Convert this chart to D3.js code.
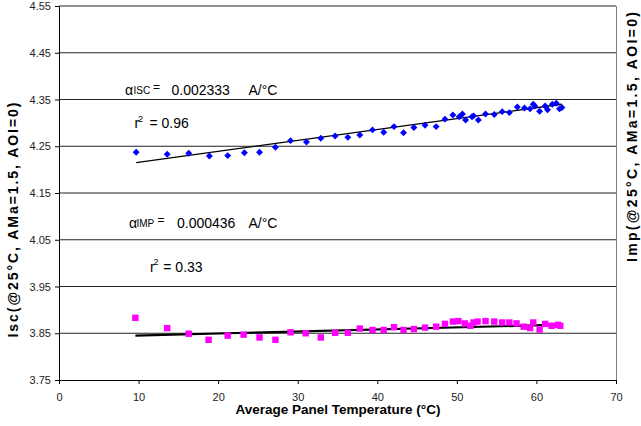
<!DOCTYPE html>
<html><head><meta charset="utf-8">
<script src="https://cdn.jsdelivr.net/npm/d3@7"></script>
<style>body{margin:0;background:#fff}svg{display:block;font-family:"Liberation Sans",Arial,sans-serif}</style>
</head><body><svg id="c" width="641" height="426"></svg>
<script>
// ---- data ----
const xTicks = [0, 10, 20, 30, 40, 50, 60, 70];
const yTicks = [3.75, 3.85, 3.95, 4.05, 4.15, 4.25, 4.35, 4.45, 4.55];
const yTickLabels = ["3.75", "3.85", "3.95", "4.05", "4.15", "4.25", "4.35", "4.45", "4.55"];

const iscTemp = [9.7,13.6,16.3,18.9,21.2,23.3,25.2,27.2,29.1,31.1,32.9,34.7,36.3,37.8,39.4,40.8,42.1,43.3,44.6,46.0,47.4,48.5,49.5,50.3,50.7,51.1,51.9,52.1,52.7,53.6,54.7,55.7,56.6,57.6,58.5,59.2,59.6,59.8,60.4,61.1,61.4,62.0,62.5,62.9,63.2];
const iscVal  = [4.237,4.233,4.235,4.229,4.230,4.236,4.237,4.248,4.262,4.259,4.267,4.272,4.269,4.274,4.285,4.280,4.292,4.279,4.290,4.295,4.292,4.308,4.317,4.313,4.319,4.306,4.313,4.315,4.306,4.319,4.318,4.324,4.322,4.334,4.332,4.330,4.340,4.336,4.325,4.336,4.328,4.340,4.342,4.330,4.333];

const impTemp = [9.6,13.6,16.3,18.8,21.2,23.2,25.2,27.2,29.1,31.0,32.9,34.7,36.3,37.8,39.4,40.8,42.1,43.3,44.6,46.0,47.4,48.5,49.5,50.2,51.0,51.7,52.1,52.6,53.6,54.7,55.7,56.6,57.5,58.4,59.2,59.6,60.4,61.1,61.9,62.7,63.0];
const impVal  = [3.883,3.861,3.849,3.836,3.845,3.847,3.841,3.836,3.852,3.850,3.841,3.851,3.851,3.860,3.857,3.857,3.863,3.857,3.859,3.862,3.864,3.870,3.875,3.876,3.871,3.866,3.873,3.875,3.876,3.875,3.873,3.873,3.871,3.864,3.861,3.873,3.858,3.870,3.866,3.868,3.866];

const iscFit = [4.1924, 0.002333];   // intercept, slope
const impFit = [3.8408, 0.000436];

const texts = {
  yTitle: "Isc(@25°C, AMa=1.5, AOI=0)",
  y2Title: "Imp(@25°C, AMa=1.5, AOI=0)",
  xTitle: "Average Panel Temperature (°C)",
  iscAlpha: "0.002333", iscR2: "= 0.96",
  impAlpha: "0.000436", impR2: "= 0.33",
  unit: "A/°C"
};

// ---- drawing ----
const svg = d3.select("#c");
const x = d3.scaleLinear().domain([0, 70]).range([59, 616]);
const y = d3.scaleLinear().domain([3.75, 4.55]).range([380, 6]);

// gridlines
svg.append("g").selectAll("line").data(yTicks.slice(1)).join("line")
  .attr("x1", x(0)).attr("x2", x(70))
  .attr("y1", d => y(d)).attr("y2", d => y(d))
  .attr("stroke", "#222").attr("stroke-width", 1);

// right border
svg.append("line").attr("x1", x(70) + 0.5).attr("x2", x(70) + 0.5)
  .attr("y1", y(4.55)).attr("y2", y(3.75)).attr("stroke", "#808080");

// axes
const xAxis = d3.axisBottom(x).tickValues(xTicks).tickSize(4).tickSizeOuter(0).tickPadding(9)
  .tickFormat(d => String(d));
const gx = svg.append("g").attr("transform", "translate(0,380)").call(xAxis);
const yAxis = d3.axisLeft(y).tickValues(yTicks).tickSize(4).tickSizeOuter(0).tickPadding(4)
  .tickFormat((d, i) => yTickLabels[i]);
const gy = svg.append("g").attr("transform", "translate(" + x(0) + ",0)").call(yAxis);
[gx, gy].forEach(g => {
  g.select(".domain").attr("stroke", "#000");
  g.selectAll(".tick line").attr("stroke", "#000");
  g.selectAll(".tick text").attr("font-size", 11).attr("fill", "#222")
    .attr("font-family", '"Liberation Sans",Arial,sans-serif');
});

// trend lines
const line = d3.line().x(d => x(d[0])).y(d => y(d[1]));
const iscExt = d3.extent(iscTemp), impExt = d3.extent(impTemp);
svg.append("path").datum(iscExt.map(t => [t, iscFit[0] + iscFit[1] * t]))
  .attr("d", line).attr("stroke", "#000").attr("stroke-width", 1.3).attr("fill", "none");
svg.append("path").datum(impExt.map(t => [t, impFit[0] + impFit[1] * t]))
  .attr("d", line).attr("stroke", "#000").attr("stroke-width", 2.2).attr("fill", "none");

// markers
svg.append("g").selectAll("path").data(iscTemp.map((t, i) => [t, iscVal[i]])).join("path")
  .attr("d", d3.symbol().type(d3.symbolSquare).size(24))
  .attr("transform", d => `translate(${x(d[0])},${y(d[1])}) rotate(45)`)
  .attr("fill", "#0000ff");
svg.append("g").selectAll("rect").data(impTemp.map((t, i) => [t, impVal[i]])).join("rect")
  .attr("x", d => x(d[0]) - 3.2).attr("y", d => y(d[1]) - 3.2)
  .attr("width", 6.4).attr("height", 6.4).attr("fill", "#ff00ff");

// axis titles
svg.append("text").attr("x", 338).attr("y", 414).attr("text-anchor", "middle")
  .attr("font-size", 13.5).attr("font-weight", "bold").text(texts.xTitle);
svg.append("text").attr("transform", "translate(18,220) rotate(-90)").attr("text-anchor", "middle")
  .attr("font-size", 14).attr("font-weight", "bold")
  .attr("textLength", 235).attr("lengthAdjust", "spacing").text(texts.yTitle);
svg.append("text")
  .attr("transform", "translate(637,262) rotate(-90)").attr("text-anchor", "start")
  .attr("font-size", 14).attr("font-weight", "bold")
  .attr("textLength", 250).attr("lengthAdjust", "spacing").text(texts.y2Title);

// annotations
function coef(ax, base, sub, subX, eqX, val, valX, unitX) {
  svg.append("text").attr("x", ax).attr("y", base).attr("font-size", 14).text("α");
  svg.append("text").attr("x", subX).attr("y", base - 1).attr("font-size", 10).text(sub);
  svg.append("text").attr("x", eqX).attr("y", base - 4).attr("font-size", 12).text("=");
  svg.append("text").attr("x", valX).attr("y", base).attr("font-size", 14).text(val);
  svg.append("text").attr("x", unitX).attr("y", base).attr("font-size", 14).text(texts.unit);
}
function r2(rx, base, supX, eqX, val) {
  svg.append("text").attr("x", rx).attr("y", base).attr("font-size", 14).text("r");
  svg.append("text").attr("x", supX).attr("y", base - 6.5).attr("font-size", 9).text("2");
  svg.append("text").attr("x", eqX).attr("y", base).attr("font-size", 14).text(val);
}
coef(125, 95, "ISC", 133.5, 153, texts.iscAlpha, 171.5, 248.5);
r2(134.5, 128.3, 138, 149.5, texts.iscR2);
coef(129, 227.7, "IMP", 136.5, 157.5, texts.impAlpha, 177, 248.5);
r2(150, 271.7, 153.5, 163.3, texts.impR2);
</script></body></html>
